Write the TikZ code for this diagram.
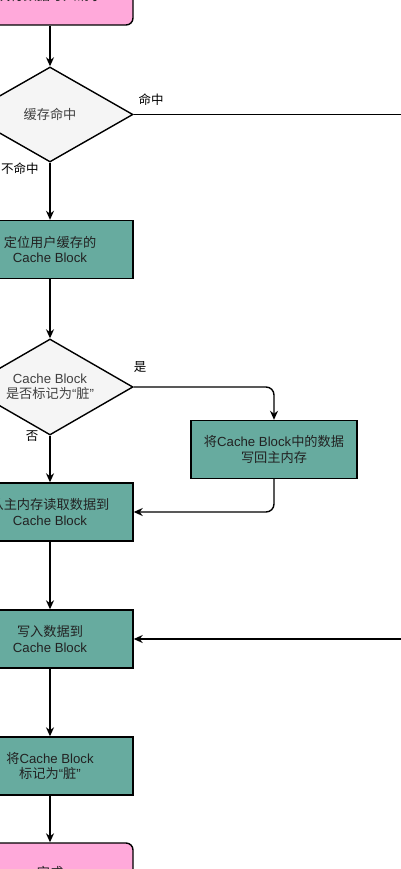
\documentclass[tikz,border=0pt]{standalone}
\usepackage{fontspec}
\setmainfont{Liberation Sans}
\newfontfamily\cjk{Noto Sans CJK SC}
\usetikzlibrary{shapes.geometric,arrows.meta}
\definecolor{pinkfill}{HTML}{FFA9DA}
\definecolor{greenfill}{HTML}{67AB9F}
\definecolor{grayfill}{HTML}{F5F5F5}
\definecolor{txt}{HTML}{222222}
\tikzset{
  x=1pt,y=1pt,
  every node/.style={font=\fontsize{13.2}{15.5}\selectfont, text=txt, align=center},
  term/.style={draw, line width=1.4pt, fill=pinkfill, rounded corners=7pt, minimum width=166pt, minimum height=58pt, inner sep=0pt},
  proc/.style={draw, line width=1.4pt, fill=greenfill, minimum width=166pt, minimum height=58pt, inner sep=0pt},
  dec/.style={draw, line width=1.4pt, fill=grayfill, diamond, aspect=1.75, minimum width=166pt, minimum height=95pt, inner sep=0pt, text=black!75},
  conn/.style={line width=1.4pt, -{Stealth[length=9pt,width=8pt]}},
  plain/.style={line width=1.4pt},
  lbl/.style={font=\fontsize{12.5}{14}\selectfont, text=black}
}
\begin{document}
\begin{tikzpicture}
\useasboundingbox (0,0) rectangle (400,-869);
\node[term] (start) at (50,4) {\cjk 执行数据写入请求};
\node[dec] (d1) at (50,-114.5) {\cjk 缓存命中};
\node[proc] (b1) at (50,-249.5) {{\cjk 定位用户缓存的}\\Cache Block};
\node[dec, minimum height=96pt] (d2) at (50,-387) {Cache Block\\{\cjk 是否标记为}“{\cjk 脏}”};
\node[proc] (wb) at (274,-449.5) {{\cjk 将}Cache Block{\cjk 中的数据}\\{\cjk 写回主内存}};
\node[proc] (b2) at (50,-512) {{\cjk 从主内存读取数据到}\\Cache Block};
\node[proc] (b3) at (50,-639) {{\cjk 写入数据到}\\Cache Block};
\node[proc] (b4) at (50,-766) {{\cjk 将}Cache Block\\{\cjk 标记为}“{\cjk 脏}”};
\node[term] (end) at (50,-872) {\cjk 完成};
\coordinate (c1) at (402,-114.5);
\coordinate (c2) at (402,-639);
\node[lbl] (l1) at (151,-100) {\cjk 命中};
\node[lbl] (l2) at (20,-169) {\cjk 不命中};
\node[lbl] (l3) at (140,-367) {\cjk 是};
\node[lbl] (l4) at (32,-436) {\cjk 否};
\draw[conn] (start) -- (d1);
\draw[plain] (d1.east) -- (c1);
\draw[conn] (c2) -- (b3.east);
\draw[conn] (d1) -- (b1);
\draw[conn] (b1) -- (d2);
\draw[conn, rounded corners=8pt] (d2.east) -| (wb.north);
\draw[conn, rounded corners=8pt] (wb.south) |- (b2.east);
\draw[conn] (d2) -- (b2);
\draw[conn] (b2) -- (b3);
\draw[conn] (b3) -- (b4);
\draw[conn] (b4) -- (end);
\end{tikzpicture}
\end{document}
